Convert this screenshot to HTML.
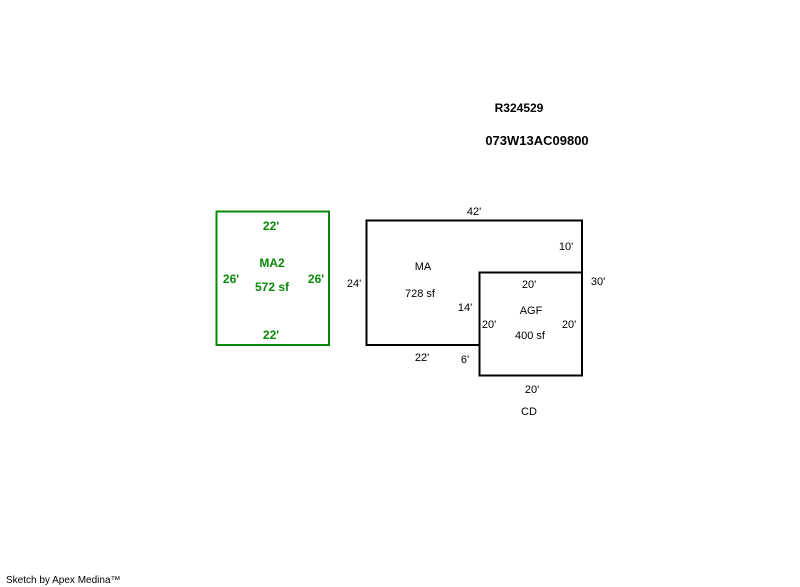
<!DOCTYPE html>
<html><head><meta charset="utf-8"><style>
html,body{margin:0;padding:0;background:#fff;width:800px;height:587px;overflow:hidden}
svg{display:block}
text{font-family:"Liberation Sans",Arial,sans-serif}
</style></head><body>
<svg width="800" height="587" viewBox="0 0 800 587" xmlns="http://www.w3.org/2000/svg">
<text x="519" y="112" font-size="12" font-weight="bold" text-anchor="middle">R324529</text>
<text x="537" y="145" font-size="13" font-weight="bold" text-anchor="middle">073W13AC09800</text>

<rect x="216.5" y="211.5" width="112.5" height="133.5" fill="none" stroke="#078a07" stroke-width="2"/>
<g fill="#078a07" font-size="12" font-weight="bold" text-anchor="middle">
<text x="271" y="230">22'</text>
<text x="272" y="267">MA2</text>
<text x="231" y="283">26'</text>
<text x="316" y="283">26'</text>
<text x="272" y="291">572 sf</text>
<text x="271" y="339">22'</text>
</g>

<path d="M366.5 220.5 H582 V272.5 H479.5 V345 H366.5 Z" fill="none" stroke="#000" stroke-width="2"/>
<rect x="479.5" y="272.5" width="102.5" height="103" fill="none" stroke="#000" stroke-width="2"/>
<g fill="#000" font-size="11" text-anchor="middle">
<text x="474" y="215">42'</text>
<text x="566" y="250">10'</text>
<text x="423" y="270">MA</text>
<text x="354" y="287">24'</text>
<text x="598" y="285">30'</text>
<text x="529" y="288">20'</text>
<text x="420" y="297">728 sf</text>
<text x="465" y="311">14'</text>
<text x="531" y="314">AGF</text>
<text x="489" y="328">20'</text>
<text x="569" y="328">20'</text>
<text x="530" y="339">400 sf</text>
<text x="422" y="361">22'</text>
<text x="465" y="363">6'</text>
<text x="532" y="393">20'</text>
<text x="529" y="415">CD</text>
</g>
<text x="6" y="583" font-size="10" fill="#000">Sketch by Apex Medina™</text>
</svg>
</body></html>
